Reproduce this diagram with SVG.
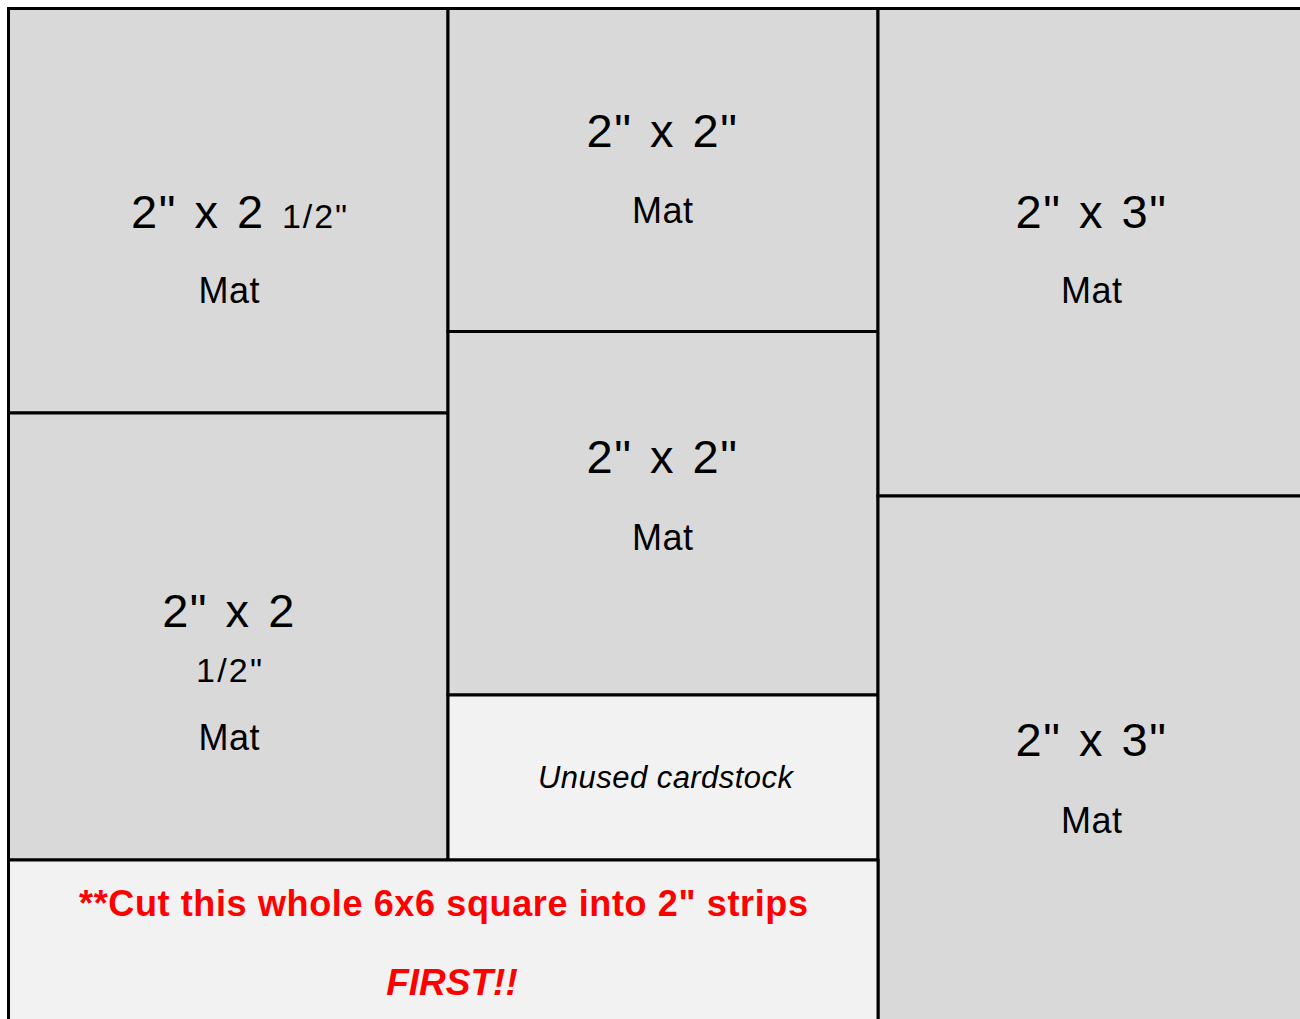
<svg xmlns="http://www.w3.org/2000/svg" width="1300" height="1019" viewBox="0 0 1300 1019">
<style>
.cell{fill:#d9d9d9;stroke:#000;stroke-width:3}
.light{fill:#f2f2f2;stroke:#000;stroke-width:3}
text{font-family:"Liberation Sans",Arial,Helvetica,sans-serif;fill:#000;text-anchor:middle}
.big{font-size:47px;word-spacing:3px;letter-spacing:1.5px}
.frac{font-size:34px}
.mat{font-size:36px}
.unused{font-size:31px;font-style:italic}
.red{font-size:36px;font-weight:bold;fill:#ff0000}
.redi{font-size:37px;font-weight:bold;font-style:italic;fill:#ff0000}
.st{text-anchor:start}
</style>
<rect x="0" y="0" width="1300" height="1019" fill="#ffffff"/>
<g id="mat-2x2half-top">
<rect class="cell" x="8.5" y="8.5" width="439.5" height="404.5"/>
<text class="big st" x="131" y="228">2" x 2</text>
<text class="frac st" x="282" y="228" textLength="65" lengthAdjust="spacing">1/2"</text>
<text class="mat" x="229" y="303" textLength="61" lengthAdjust="spacing">Mat</text>
</g>
<g id="mat-2x2half-bottom">
<rect class="cell" x="8.5" y="413" width="439.5" height="447"/>
<text class="big" x="229" y="627">2" x 2</text>
<text class="frac" x="229" y="682" textLength="66" lengthAdjust="spacing">1/2"</text>
<text class="mat" x="229" y="750" textLength="61" lengthAdjust="spacing">Mat</text>
</g>
<g id="mat-2x2-top">
<rect class="cell" x="448" y="8.5" width="430" height="323"/>
<text class="big" x="662.5" y="147">2" x 2"</text>
<text class="mat" x="662.5" y="223" textLength="61" lengthAdjust="spacing">Mat</text>
</g>
<g id="mat-2x2-bottom">
<rect class="cell" x="448" y="331.5" width="430" height="363.5"/>
<text class="big" x="662.5" y="473">2" x 2"</text>
<text class="mat" x="662.5" y="550" textLength="61" lengthAdjust="spacing">Mat</text>
</g>
<g id="unused">
<rect class="light" x="448" y="695" width="430" height="165"/>
<text class="unused" x="665.5" y="788" textLength="255" lengthAdjust="spacing">Unused cardstock</text>
</g>
<g id="mat-2x3-top">
<rect class="cell" x="878" y="8.5" width="426" height="487.5"/>
<text class="big" x="1091.5" y="228">2" x 3"</text>
<text class="mat" x="1091.5" y="303" textLength="61" lengthAdjust="spacing">Mat</text>
</g>
<g id="mat-2x3-bottom">
<rect class="cell" x="878" y="496" width="426" height="530"/>
<text class="big" x="1091.5" y="756">2" x 3"</text>
<text class="mat" x="1091.5" y="833" textLength="61" lengthAdjust="spacing">Mat</text>
</g>
<g id="note">
<rect class="light" x="8.5" y="860" width="869.5" height="166"/>
<text class="red" x="443.5" y="916" textLength="729" lengthAdjust="spacing">**Cut this whole 6x6 square into 2" strips</text>
<text class="redi" x="452" y="995">FIRST!!</text>
</g>
<g id="connectors"></g>
</svg>
